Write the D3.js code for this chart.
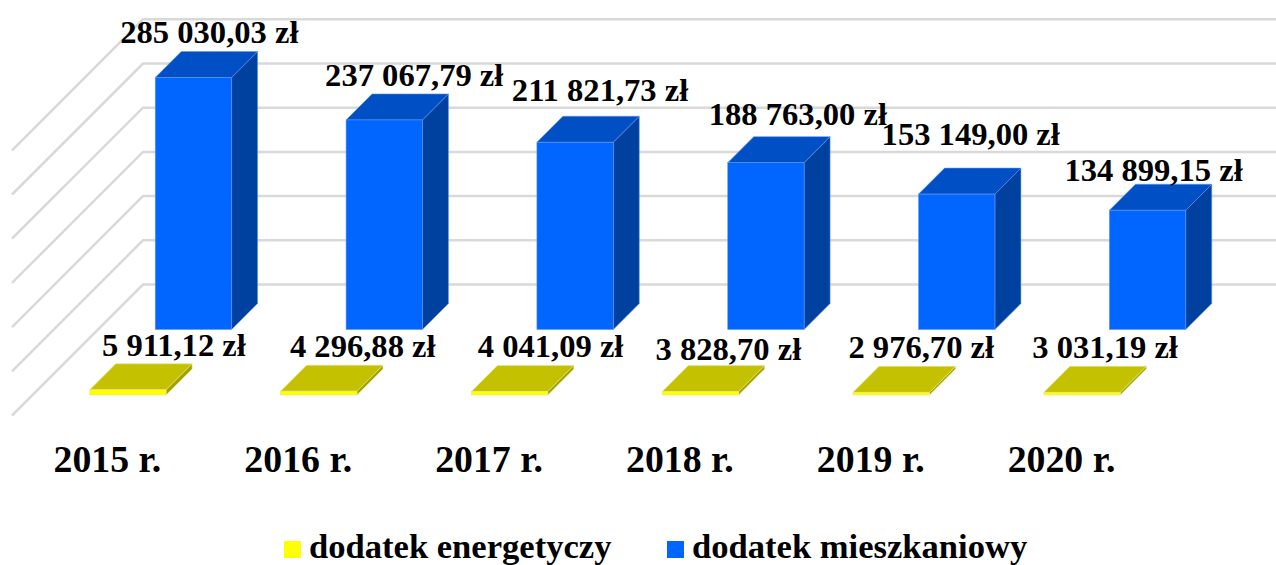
<!DOCTYPE html>
<html>
<head>
<meta charset="utf-8">
<script src="https://cdn.jsdelivr.net/npm/d3@7/dist/d3.min.js"></script>
<style>
  html, body { margin: 0; background: #fff; }
  svg { display: block; }
  text { font-family: "Liberation Serif", serif; font-weight: bold; fill: #000; }
  .value-label { font-size: 32.6px; }
  .year-label { font-size: 37.8px; }
  .legend-label { font-size: 34.6px; }
  .grid-line { stroke: #d9d9d9; stroke-width: 2.5; fill: none; }
</style>
</head>
<body>
<svg id="chart" width="1276" height="565"></svg>
<script>
const years = ["2015 r.", "2016 r.", "2017 r.", "2018 r.", "2019 r.", "2020 r."];
const energyValues = [5911.12, 4296.88, 4041.09, 3828.7, 2976.7, 3031.19];
const housingValues = [285030.03, 237067.79, 211821.73, 188763.0, 153149.0, 134899.15];
const energyLabels = ["5 911,12 zł", "4 296,88 zł", "4 041,09 zł", "3 828,70 zł", "2 976,70 zł", "3 031,19 zł"];
const housingLabels = ["285 030,03 zł", "237 067,79 zł", "211 821,73 zł", "188 763,00 zł", "153 149,00 zł", "134 899,15 zł"];
const gridTicks = [0, 50000, 100000, 150000, 200000, 250000, 300000];

// hand placed labels, same as the original chart [dx from bar centre, dy from bar top]
const housingNudge = [[16, -9], [30, -8], [25, -15], [32, -12], [14, -23], [6, -3]];
const energyNudge = [[46, -8], [44, -8], [41, -8], [28, -6], [30, -8], [23, -8]];

const svg = d3.select("#chart");
const width = 1276;

// fake 3d: a point is moved up and right by its depth into the floor
const floorY = 415.5;
const wallDepth = 131;
const barDepth = 26;
const housingDepth = 86;
const energyDepth = 20.5;

const xScale = d3.scaleBand().domain(years).range([12, 1157]).paddingInner(0.6).paddingOuter(0.3);
const heightScale = d3.scaleLinear().domain([0, 300000]).range([0, 265.2]);

const px = (year, depth) => xScale(year) + depth;
const py = (value, depth) => floorY - depth - heightScale(value);
const toPath = (points) => "M" + points.map((p) => p.join(",")).join("L") + "Z";

const gridLayer = svg.append("g");
gridTicks.forEach((tick) => {
  const backY = py(tick, wallDepth);
  gridLayer.append("path")
    .attr("class", "grid-line")
    .attr("d", `M12,${backY + wallDepth}L${12 + wallDepth},${backY}L${width},${backY}`);
});

function drawSeries(values, depth, colors) {
  const w = xScale.bandwidth();
  const bars = svg.append("g")
    .selectAll("g")
    .data(years)
    .join("g")
    .attr("stroke", colors.edge)
    .attr("stroke-width", 0.6);

  bars.each(function (year, i) {
    const group = d3.select(this);
    const left = px(year, depth);
    const right = left + w;
    const top = py(values[i], depth);
    const base = py(0, depth);

    group.append("path")
      .attr("fill", colors.side)
      .attr("d", toPath([[right, top], [right + barDepth, top - barDepth], [right + barDepth, base - barDepth], [right, base]]));
    group.append("path")
      .attr("fill", colors.top)
      .attr("d", toPath([[left, top], [left + barDepth, top - barDepth], [right + barDepth, top - barDepth], [right, top]]));
    group.append("rect")
      .attr("fill", colors.front)
      .attr("x", left)
      .attr("y", top)
      .attr("width", w)
      .attr("height", base - top);
  });
}

const energyColors = { front: "#ffff00", top: "#c4c200", side: "#a3a100", edge: "#e6e48a" };
const housingColors = { front: "#0066ff", top: "#004fc4", side: "#00409f", edge: "#5f94ee" };

drawSeries(housingValues, housingDepth, housingColors);
drawSeries(energyValues, energyDepth, energyColors);

function drawLabels(values, labels, depth, nudge) {
  svg.append("g")
    .selectAll("text")
    .data(labels)
    .join("text")
    .attr("class", "value-label")
    .attr("text-anchor", "middle")
    .attr("x", (d, i) => px(years[i], depth) + xScale.bandwidth() / 2 + nudge[i][0])
    .attr("y", (d, i) => py(values[i], depth) - barDepth + nudge[i][1])
    .text((d) => d);
}

drawLabels(housingValues, housingLabels, housingDepth, housingNudge);
drawLabels(energyValues, energyLabels, energyDepth, energyNudge);

svg.append("g")
  .selectAll("text")
  .data(years)
  .join("text")
  .attr("class", "year-label")
  .attr("text-anchor", "middle")
  .attr("x", (d) => xScale(d) + xScale.bandwidth() / 2)
  .attr("y", 472)
  .text((d) => d);

const legend = [
  { name: "dodatek energetyczy", color: energyColors.front, x: 284 },
  { name: "dodatek mieszkaniowy", color: housingColors.front, x: 667 },
];
const legendItems = svg.append("g").selectAll("g").data(legend).join("g");
legendItems.append("rect")
  .attr("x", (d) => d.x)
  .attr("y", 541)
  .attr("width", 17)
  .attr("height", 17)
  .attr("fill", (d) => d.color);
legendItems.append("text")
  .attr("class", "legend-label")
  .attr("x", (d) => d.x + 25)
  .attr("y", 558)
  .text((d) => d.name);
</script>
</body>
</html>
